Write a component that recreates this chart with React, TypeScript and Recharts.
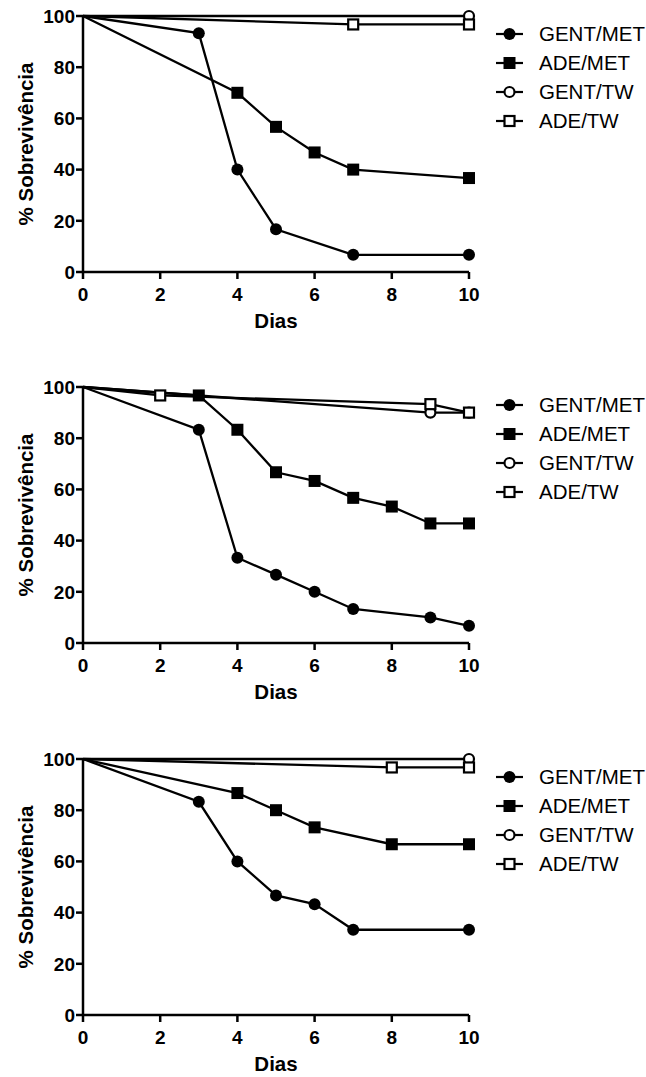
import React from "react";
import { LineChart, Line, XAxis, YAxis, Label } from "recharts";

const FONT = "'Liberation Sans', Arial, Helvetica, sans-serif";

const seriesNames = ["GENT/MET", "ADE/MET", "GENT/TW", "ADE/TW"];
const xTicks = [0, 2, 4, 6, 8, 10];
const yTicks = [0, 20, 40, 60, 80, 100];

// Panel 1
const p1GentMetX = [0, 3, 4, 5, 7, 10];
const p1GentMetY = [100, 93.3, 40, 16.7, 6.7, 6.7];
const p1AdeMetX = [0, 4, 5, 6, 7, 10];
const p1AdeMetY = [100, 70, 56.7, 46.7, 40, 36.7];
const p1GentTwX = [0, 10];
const p1GentTwY = [100, 100];
const p1AdeTwX = [0, 7, 10];
const p1AdeTwY = [100, 96.7, 96.7];

// Panel 2
const p2GentMetX = [0, 3, 4, 5, 6, 7, 9, 10];
const p2GentMetY = [100, 83.3, 33.3, 26.7, 20, 13.3, 10, 6.7];
const p2AdeMetX = [0, 3, 4, 5, 6, 7, 8, 9, 10];
const p2AdeMetY = [100, 96.7, 83.3, 66.7, 63.3, 56.7, 53.3, 46.7, 46.7];
const p2GentTwX = [0, 9, 10];
const p2GentTwY = [100, 90, 90];
const p2AdeTwX = [0, 2, 9, 10];
const p2AdeTwY = [100, 96.7, 93.3, 90];

// Panel 3
const p3GentMetX = [0, 3, 4, 5, 6, 7, 10];
const p3GentMetY = [100, 83.3, 60, 46.7, 43.3, 33.3, 33.3];
const p3AdeMetX = [0, 4, 5, 6, 8, 10];
const p3AdeMetY = [100, 86.7, 80, 73.3, 66.7, 66.7];
const p3GentTwX = [0, 10];
const p3GentTwY = [100, 100];
const p3AdeTwX = [0, 8, 10];
const p3AdeTwY = [100, 96.7, 96.7];

const toData = (xs: number[], ys: number[]) => xs.map((x, i) => ({ x, y: ys[i] }));

type Kind = "circleFilled" | "squareFilled" | "circleOpen" | "squareOpen";
const kinds: Kind[] = ["circleFilled", "squareFilled", "circleOpen", "squareOpen"];

function Marker({ cx, cy, kind }: { cx: number; cy: number; kind: Kind }) {
  if (cx == null || cy == null) return null;
  switch (kind) {
    case "circleFilled":
      return <circle cx={cx} cy={cy} r={6} fill="#000" stroke="none" />;
    case "squareFilled":
      return <rect x={cx - 6} y={cy - 6} width={12} height={12} fill="#000" />;
    case "circleOpen":
      return <circle cx={cx} cy={cy} r={5} fill="#fff" stroke="#000" strokeWidth={2.2} />;
    case "squareOpen":
      return <rect x={cx - 5} y={cy - 5} width={10} height={10} fill="#fff" stroke="#000" strokeWidth={2.2} />;
  }
  return null;
}

const makeDot = (kind: Kind) => (props: any) =>
  props.index === 0 ? (
    <g key={`${kind}-${props.index}`} />
  ) : (
    <Marker key={`${kind}-${props.index}`} cx={props.cx} cy={props.cy} kind={kind} />
  );

const panels = [
  [toData(p1GentMetX, p1GentMetY), toData(p1AdeMetX, p1AdeMetY), toData(p1GentTwX, p1GentTwY), toData(p1AdeTwX, p1AdeTwY)],
  [toData(p2GentMetX, p2GentMetY), toData(p2AdeMetX, p2AdeMetY), toData(p2GentTwX, p2GentTwY), toData(p2AdeTwX, p2AdeTwY)],
  [toData(p3GentMetX, p3GentMetY), toData(p3AdeMetX, p3AdeMetY), toData(p3GentTwX, p3GentTwY), toData(p3AdeTwX, p3AdeTwY)],
];

const panelTops = [0, 371, 743];

function LegendBox() {
  return (
    <div style={{ position: "absolute", left: 490, top: 19, fontFamily: FONT, fontSize: 20.5, color: "#000" }}>
      {seriesNames.map((name, i) => (
        <div key={name} style={{ display: "flex", alignItems: "center", height: 29 }}>
          <svg width={49} height={20} style={{ display: "block" }}>
            <line x1={6} y1={10} x2={33} y2={10} stroke="#000" strokeWidth={2.2} />
            <Marker cx={19.5} cy={10} kind={kinds[i]} />
          </svg>
          <span style={{ lineHeight: "20px" }}>{name}</span>
        </div>
      ))}
    </div>
  );
}

const tickStyle = { fontFamily: FONT, fontSize: 19, fontWeight: "bold", fill: "#000" } as any;

function YLabel() {
  return (
    <text
      x={25}
      y={144}
      transform="rotate(-90 25 144)"
      textAnchor="middle"
      dominantBaseline="central"
      style={{ fontFamily: FONT, fontSize: 20.5, fontWeight: "bold", fill: "#000" }}
    >
      % Sobrevivência
    </text>
  );
}

function Panel({ series, top }: { series: { x: number; y: number }[][]; top: number }) {
  return (
    <div style={{ position: "absolute", left: 0, top, width: 646, height: 360 }}>
      <LineChart width={646} height={360} margin={{ top: 16, right: 177, left: 0, bottom: 58 }}>
        <XAxis
          type="number"
          dataKey="x"
          domain={[0, 10]}
          ticks={xTicks}
          allowDuplicatedCategory={false}
          height={30}
          tickSize={7}
          tickMargin={9}
          tick={tickStyle}
          axisLine={{ stroke: "#000", strokeWidth: 2.5 }}
          tickLine={{ stroke: "#000", strokeWidth: 2.5 }}
        >
          <Label
            value="Dias"
            position="bottom"
            offset={11}
            style={{ fontFamily: FONT, fontSize: 20.5, fontWeight: "bold", fill: "#000" }}
          />
        </XAxis>
        <YAxis
          type="number"
          domain={[0, 100]}
          ticks={yTicks}
          width={83}
          tickSize={7}
          tickMargin={1}
          tick={tickStyle}
          axisLine={{ stroke: "#000", strokeWidth: 2.5 }}
          tickLine={{ stroke: "#000", strokeWidth: 2.5 }}
        >
          <Label content={() => <YLabel />} />
        </YAxis>
        {series.map((d, i) => (
          <Line
            key={seriesNames[i]}
            data={d}
            dataKey="y"
            name={seriesNames[i]}
            type="linear"
            stroke="#000"
            strokeWidth={2.3}
            dot={makeDot(kinds[i])}
            activeDot={false}
            isAnimationActive={false}
          />
        ))}
      </LineChart>
      <LegendBox />
    </div>
  );
}

export default function App() {
  return (
    <div style={{ position: "absolute", left: 0, top: 0, width: 646, height: 1077, background: "#fff" }}>
      {panels.map((s, i) => (
        <Panel key={i} series={s} top={panelTops[i]} />
      ))}
    </div>
  );
}
